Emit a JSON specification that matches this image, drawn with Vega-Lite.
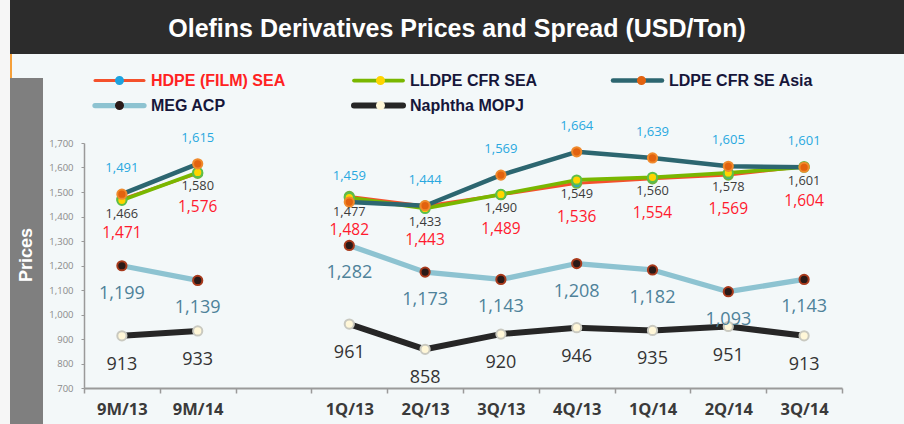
{
  "$schema": "https://vega.github.io/schema/vega-lite/v6.json",
  "background": "#F3F8F9",
  "padding": 0,
  "config": {"view": {"stroke": null}, "font": "Open Sans", "concat": {"spacing": 0}},
  "datasets": {
    "prices": [
      {"period": "9M/13", "grp": "9M", "series": "MEG ACP", "value": 1199},
      {"period": "9M/14", "grp": "9M", "series": "MEG ACP", "value": 1139},
      {"period": "1Q/13", "grp": "Q", "series": "MEG ACP", "value": 1282},
      {"period": "2Q/13", "grp": "Q", "series": "MEG ACP", "value": 1173},
      {"period": "3Q/13", "grp": "Q", "series": "MEG ACP", "value": 1143},
      {"period": "4Q/13", "grp": "Q", "series": "MEG ACP", "value": 1208},
      {"period": "1Q/14", "grp": "Q", "series": "MEG ACP", "value": 1182},
      {"period": "2Q/14", "grp": "Q", "series": "MEG ACP", "value": 1093},
      {"period": "3Q/14", "grp": "Q", "series": "MEG ACP", "value": 1143},
      {"period": "9M/13", "grp": "9M", "series": "Naphtha MOPJ", "value": 913},
      {"period": "9M/14", "grp": "9M", "series": "Naphtha MOPJ", "value": 933},
      {"period": "1Q/13", "grp": "Q", "series": "Naphtha MOPJ", "value": 961},
      {"period": "2Q/13", "grp": "Q", "series": "Naphtha MOPJ", "value": 858},
      {"period": "3Q/13", "grp": "Q", "series": "Naphtha MOPJ", "value": 920},
      {"period": "4Q/13", "grp": "Q", "series": "Naphtha MOPJ", "value": 946},
      {"period": "1Q/14", "grp": "Q", "series": "Naphtha MOPJ", "value": 935},
      {"period": "2Q/14", "grp": "Q", "series": "Naphtha MOPJ", "value": 951},
      {"period": "3Q/14", "grp": "Q", "series": "Naphtha MOPJ", "value": 913},
      {"period": "9M/13", "grp": "9M", "series": "HDPE (FILM) SEA", "value": 1471},
      {"period": "9M/14", "grp": "9M", "series": "HDPE (FILM) SEA", "value": 1576},
      {"period": "1Q/13", "grp": "Q", "series": "HDPE (FILM) SEA", "value": 1482},
      {"period": "2Q/13", "grp": "Q", "series": "HDPE (FILM) SEA", "value": 1443},
      {"period": "3Q/13", "grp": "Q", "series": "HDPE (FILM) SEA", "value": 1489},
      {"period": "4Q/13", "grp": "Q", "series": "HDPE (FILM) SEA", "value": 1536},
      {"period": "1Q/14", "grp": "Q", "series": "HDPE (FILM) SEA", "value": 1554},
      {"period": "2Q/14", "grp": "Q", "series": "HDPE (FILM) SEA", "value": 1569},
      {"period": "3Q/14", "grp": "Q", "series": "HDPE (FILM) SEA", "value": 1604},
      {"period": "9M/13", "grp": "9M", "series": "LLDPE CFR SEA", "value": 1466},
      {"period": "9M/14", "grp": "9M", "series": "LLDPE CFR SEA", "value": 1580},
      {"period": "1Q/13", "grp": "Q", "series": "LLDPE CFR SEA", "value": 1477},
      {"period": "2Q/13", "grp": "Q", "series": "LLDPE CFR SEA", "value": 1433},
      {"period": "3Q/13", "grp": "Q", "series": "LLDPE CFR SEA", "value": 1490},
      {"period": "4Q/13", "grp": "Q", "series": "LLDPE CFR SEA", "value": 1549},
      {"period": "1Q/14", "grp": "Q", "series": "LLDPE CFR SEA", "value": 1560},
      {"period": "2Q/14", "grp": "Q", "series": "LLDPE CFR SEA", "value": 1578},
      {"period": "3Q/14", "grp": "Q", "series": "LLDPE CFR SEA", "value": 1601},
      {"period": "9M/13", "grp": "9M", "series": "LDPE CFR SE Asia", "value": 1491},
      {"period": "9M/14", "grp": "9M", "series": "LDPE CFR SE Asia", "value": 1615},
      {"period": "1Q/13", "grp": "Q", "series": "LDPE CFR SE Asia", "value": 1459},
      {"period": "2Q/13", "grp": "Q", "series": "LDPE CFR SE Asia", "value": 1444},
      {"period": "3Q/13", "grp": "Q", "series": "LDPE CFR SE Asia", "value": 1569},
      {"period": "4Q/13", "grp": "Q", "series": "LDPE CFR SE Asia", "value": 1664},
      {"period": "1Q/14", "grp": "Q", "series": "LDPE CFR SE Asia", "value": 1639},
      {"period": "2Q/14", "grp": "Q", "series": "LDPE CFR SE Asia", "value": 1605},
      {"period": "3Q/14", "grp": "Q", "series": "LDPE CFR SE Asia", "value": 1601}
    ]
  },
  "bounds": "flush",
  "spacing": 0,
  "hconcat": [
    {"data": {"values": []}, "mark": "point", "width": 10, "height": 424, "view": {"fill": "#F6F6F6"}},
    {
      "bounds": "flush",
      "spacing": 0,
      "vconcat": [
        {
          "data": {"values": [{}]},
          "width": 894,
          "height": 54,
          "view": {"fill": "#2C2C2C"},
          "mark": {"type": "text", "text": "Olefins Derivatives Prices and Spread (USD/Ton)", "font": "Liberation Sans", "fontWeight": "bold", "fontSize": 25, "color": "#FFFFFF", "dy": 2}
        },
        {
          "bounds": "flush",
          "spacing": 0,
          "vconcat": [
            {"data": {"values": []}, "mark": "point", "width": 2, "height": 24, "view": {"fill": "#F5A03A"}},
            {
              "bounds": "flush",
              "spacing": 0,
              "hconcat": [
                {
                  "data": {"values": [{}]},
                  "width": 33,
                  "height": 346,
                  "view": {"fill": "#7F7F7F"},
                  "mark": {"type": "text", "text": "Prices", "angle": 270, "dx": -4, "font": "Liberation Sans", "fontWeight": "bold", "fontSize": 18, "color": "#FFFFFF"}
                },
                {"data": {"values": []}, "mark": "point", "width": 41, "height": 346},
                {
                  "bounds": "flush",
                  "spacing": 0,
                  "vconcat": [
                    {"data": {"values": []}, "mark": "point", "width": 758, "height": 65},
                    {
                      "data": {"name": "prices"},
                      "width": 758,
                      "height": 245,
                      "encoding": {
                        "x": {
                          "field": "period",
                          "type": "nominal",
                          "scale": {"type": "band", "domain": ["9M/13", "9M/14", " ", "1Q/13", "2Q/13", "3Q/13", "4Q/13", "1Q/14", "2Q/14", "3Q/14"], "paddingInner": 0, "paddingOuter": 0},
                          "axis": {"title": null, "tickBand": "extent", "tickSize": 5, "tickColor": "#9A9A9A", "tickWidth": 1.5, "domainColor": "#9A9A9A", "domainWidth": 2, "labelFont": "Open Sans", "labelFontWeight": "bold", "labelFontSize": 16.5, "labelColor": "#3A3A3A", "labelPadding": 8, "labelAngle": 0}
                        },
                        "y": {
                          "field": "value",
                          "type": "quantitative",
                          "scale": {"domain": [700, 1700], "nice": false, "zero": false},
                          "axis": {"title": null, "values": [700, 800, 900, 1000, 1100, 1200, 1300, 1400, 1500, 1600, 1700], "format": ",.0f", "grid": false, "labelFont": "Open Sans", "labelFontSize": 9.5, "labelColor": "#8A8A8A", "tickSize": 3, "tickColor": "#9A9A9A", "domainColor": "#9A9A9A", "domainWidth": 1.5, "labelPadding": 8}
                        }
                      },
                      "layer": [
                        {
                          "mark": {"type": "line", "strokeCap": "round", "strokeJoin": "round"},
                          "encoding": {
                            "color": {
                              "field": "series",
                              "type": "nominal",
                              "scale": {"domain": ["HDPE (FILM) SEA", "LLDPE CFR SEA", "LDPE CFR SE Asia", "MEG ACP", "Naphtha MOPJ"], "range": ["#F4512C", "#79B700", "#2C6670", "#8DC3D1", "#262626"]},
                              "legend": {
                                "orient": "none", "legendX": 92, "legendY": 72, "direction": "horizontal", "columns": 3, "title": null, "padding": 0,
                                "symbolType": "stroke", "symbolSize": 2401, "symbolStrokeWidth": 6, "clipHeight": 17,
                                "labelFont": "Liberation Sans", "labelFontWeight": "bold", "labelFontSize": 16, "labelOffset": 4, "labelLimit": 300,
                                "gridAlign": "all", "columnPadding": 55, "rowPadding": 8,
                                "encode": {
                                  "symbols": {"update": {"strokeCap": {"value": "round"}}},
                                  "labels": {"update": {"fill": {"signal": "datum.value === 'HDPE (FILM) SEA' ? '#FF2222' : '#16163A'"}}}
                                }
                              }
                            },
                            "strokeWidth": {
                              "field": "series",
                              "type": "nominal",
                              "scale": {"domain": ["HDPE (FILM) SEA", "LLDPE CFR SEA", "LDPE CFR SE Asia", "MEG ACP", "Naphtha MOPJ"], "range": [3, 6, 5, 5, 4]},
                              "legend": null
                            },
                            "detail": {"field": "grp", "type": "nominal"}
                          }
                        },
                        {
                          "mark": {"type": "point", "filled": true, "size": 85, "strokeWidth": 2, "opacity": 1},
                          "encoding": {
                            "fill": {
                              "field": "series",
                              "type": "nominal",
                              "scale": {"domain": ["Naphtha MOPJ", "MEG ACP", "LDPE CFR SE Asia", "LLDPE CFR SEA", "HDPE (FILM) SEA"], "range": ["#FFF7D8", "#2A1A18", "#E2620F", "#FFD400", "#1DA3DF"]},
                              "legend": {
                                "values": ["HDPE (FILM) SEA", "LLDPE CFR SEA", "LDPE CFR SE Asia", "MEG ACP", "Naphtha MOPJ"],
                                "orient": "none", "legendX": 92, "legendY": 72, "direction": "horizontal", "columns": 3, "title": null, "padding": 0,
                                "symbolType": "M-1,0L-1,0M1,0L1,0M-0.184,0C-0.184,-0.1016,-0.1016,-0.184,0,-0.184C0.1016,-0.184,0.184,-0.1016,0.184,0C0.184,0.1016,0.1016,0.184,0,0.184C-0.1016,0.184,-0.184,0.1016,-0.184,0Z",
                                "symbolSize": 2401, "symbolStrokeWidth": 2, "clipHeight": 17, "symbolOffset": 2,
                                "labelFont": "Liberation Sans", "labelFontWeight": "bold", "labelFontSize": 16, "labelOffset": 8, "labelLimit": 300, "labelOpacity": 0,
                                "gridAlign": "all", "columnPadding": 55, "rowPadding": 8,
                                "encode": {
                                  "symbols": {"update": {"stroke": {"signal": "datum.value === 'HDPE (FILM) SEA' ? '#6DB33F' : datum.value === 'LLDPE CFR SEA' ? '#5CBF4A' : datum.value === 'LDPE CFR SE Asia' ? '#F08A2C' : datum.value === 'MEG ACP' ? '#A83A1C' : '#C9C9C0'"}}}
                                }
                              }
                            },
                            "stroke": {
                              "field": "series",
                              "type": "nominal",
                              "scale": {"domain": ["HDPE (FILM) SEA", "LLDPE CFR SEA", "LDPE CFR SE Asia", "MEG ACP", "Naphtha MOPJ"], "range": ["#6DB33F", "#5CBF4A", "#F08A2C", "#A83A1C", "#C9C9C0"]},
                              "legend": null
                            }
                          }
                        },
                        {
                          "transform": [{"filter": "datum.series === 'HDPE (FILM) SEA'"}],
                          "mark": {"type": "text", "dy": 34, "font": "Open Sans", "fontSize": 15.5, "color": "#FF1A2E"},
                          "encoding": {"text": {"field": "value", "type": "quantitative", "format": ","}}
                        },
                        {
                          "transform": [{"filter": "datum.series === 'LLDPE CFR SEA'"}],
                          "mark": {"type": "text", "dy": 14, "font": "Open Sans", "fontSize": 12.8, "color": "#3C3C3C"},
                          "encoding": {"text": {"field": "value", "type": "quantitative", "format": ","}}
                        },
                        {
                          "transform": [{"filter": "datum.series === 'LDPE CFR SE Asia'"}],
                          "mark": {"type": "text", "dy": -26, "font": "Open Sans", "fontSize": 13, "color": "#29A8E0"},
                          "encoding": {"text": {"field": "value", "type": "quantitative", "format": ","}}
                        },
                        {
                          "transform": [{"filter": "datum.series === 'MEG ACP'"}],
                          "mark": {"type": "text", "dy": 28, "font": "Open Sans", "fontSize": 18, "color": "#4E8299"},
                          "encoding": {"text": {"field": "value", "type": "quantitative", "format": ","}}
                        },
                        {
                          "transform": [{"filter": "datum.series === 'Naphtha MOPJ'"}],
                          "mark": {"type": "text", "dy": 29, "font": "Open Sans", "fontSize": 18, "color": "#333333"},
                          "encoding": {"text": {"field": "value", "type": "quantitative", "format": ","}}
                        },
                        {
                          "data": {"values": [{}]},
                          "mark": {"type": "text", "align": "left", "baseline": "top", "dx": 20, "font": "Liberation Sans", "fontWeight": "bold", "fontSize": 14.5, "lineHeight": 18.5, "color": "#1F2A5C", "text": ["HDPE Price", "+8% YoY", "+2% QoQ"]},
                          "encoding": {"x": {"datum": "3Q/14"}, "y": {"datum": 1418}}
                        }
                      ]
                    }
                  ]
                }
              ]
            }
          ]
        }
      ]
    }
  ]
}
